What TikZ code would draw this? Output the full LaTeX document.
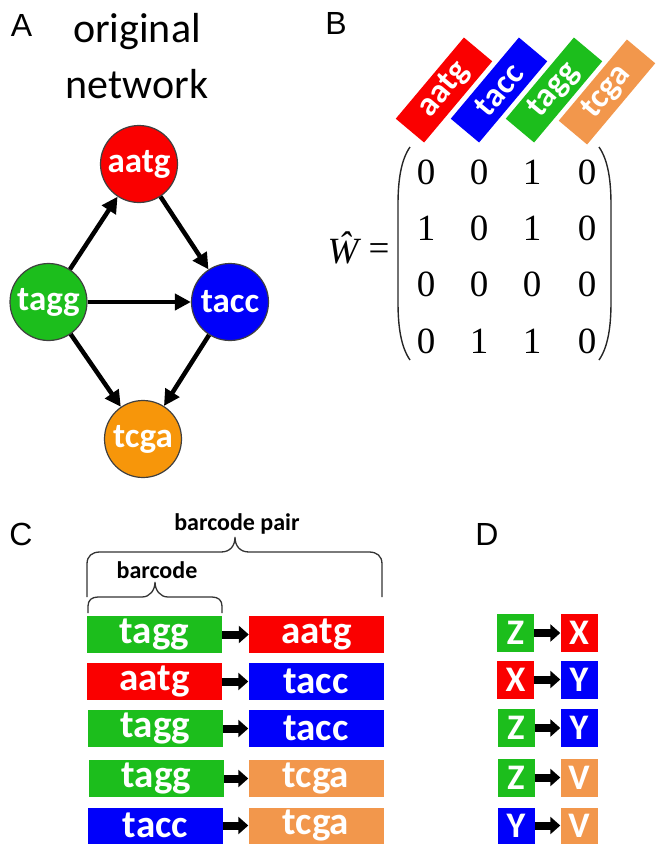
\documentclass[tikz,border=0pt]{standalone}
\usepackage{fontspec}
\setmainfont{Carlito}
\newfontfamily\labfont{Liberation Sans}
\newfontfamily\serfont{Liberation Serif}
\usetikzlibrary{arrows.meta}
\definecolor{cred}{RGB}{250,0,0}
\definecolor{cblue}{RGB}{0,0,250}
\definecolor{cgreen}{RGB}{28,190,28}
\definecolor{corange}{RGB}{247,150,10}
\definecolor{clorange}{RGB}{242,151,76}
\begin{document}
\begin{tikzpicture}[x=1pt,y=-1pt,
  panel/.style={font=\labfont\fontsize{32}{36}\selectfont, inner sep=0pt},
  title/.style={font=\fontsize{42}{48}\selectfont, inner sep=0pt},
  circ/.style={circle, draw=black!75, line width=1.2pt, minimum size=77pt, inner sep=0pt, text=white, font=\bfseries\fontsize{35}{40}\selectfont},
  garrow/.style={line width=4.5pt, -{Triangle[length=16pt,width=16pt]}},
  tagbox/.style={rectangle, minimum width=106pt, minimum height=37pt, inner sep=0pt, rotate=50, text=white, font=\bfseries\fontsize{34}{36}\selectfont},
  entry/.style={font=\serfont\fontsize{37}{40}\selectfont, inner sep=0pt},
  paren/.style={line width=1.4pt, black!85},
  brace/.style={line width=1.3pt, black!80},
  bracelabel/.style={font=\bfseries\fontsize{24}{28}\selectfont, inner sep=0pt},
  cbox/.style={rectangle, minimum width=135pt, minimum height=37pt, inner sep=0pt, text=white, font=\bfseries\fontsize{39}{40}\selectfont},
  dbox/.style={rectangle, minimum width=37pt, minimum height=38pt, inner sep=0pt, text=white, font=\bfseries\fontsize{36}{40}\selectfont},
  barrow/.style={line width=8pt, -{Triangle[length=10pt,width=17pt]}}
]
\useasboundingbox (0,0) rectangle (657,844);

% ---------- Panel A ----------
\node[panel] (labA) at (21.5,25) {A};
\node[title] (t1) at (137,32) {original};
\node[title] (t2) at (137,84) {network};
\node[circ, fill=cred] (aatg) at (139,164) {aatg};
\node[circ, fill=cgreen] (tagg) at (48.5,302) {tagg};
\node[circ, fill=cblue] (tacc) at (230,302) {tacc};
\node[circ, fill=corange] (tcga) at (143,439) {tcga};
\draw[garrow] (tagg) -- (aatg);
\draw[garrow] (aatg) -- (tacc);
\draw[garrow] (tagg) -- (tacc);
\draw[garrow] (tagg) -- (tcga);
\draw[garrow] (tacc) -- (tcga);

% ---------- Panel B ----------
\node[panel] (labB) at (336,23.5) {B};
\node[tagbox, fill=cred] (bh1) at (444,90) {aatg};
\node[tagbox, fill=cblue] (bh2) at (499,90) {tacc};
\node[tagbox, fill=cgreen] (bh3) at (554,90) {tagg};
\node[tagbox, fill=clorange] (bh4) at (607,92) {tcga};
\node[font=\serfont\itshape\fontsize{37}{40}\selectfont, inner sep=0pt] (W) at (343,248) {\^{W}};
\node[entry] (eq) at (379,252) {=};
\node[entry] (m11) at (426,172) {0};
\node[entry] (m12) at (479,172) {0};
\node[entry] (m13) at (532,172) {1};
\node[entry] (m14) at (587,172) {0};
\node[entry] (m21) at (426,228) {1};
\node[entry] (m22) at (479,228) {0};
\node[entry] (m23) at (532,228) {1};
\node[entry] (m24) at (587,228) {0};
\node[entry] (m31) at (426,284) {0};
\node[entry] (m32) at (479,284) {0};
\node[entry] (m33) at (532,284) {0};
\node[entry] (m34) at (587,284) {0};
\node[entry] (m41) at (426,341) {0};
\node[entry] (m42) at (479,341) {1};
\node[entry] (m43) at (532,341) {1};
\node[entry] (m44) at (587,341) {0};
\draw[paren] (410,147) .. controls (401,160) and (398,180) .. (398,205) -- (398,302) .. controls (398,327) and (401,347) .. (410,360);
\draw[paren] (599,147) .. controls (608,160) and (611,180) .. (611,205) -- (611,302) .. controls (611,327) and (608,347) .. (599,360);

% ---------- Panel C ----------
\node[panel] (labC) at (21,534.5) {C};
\node[bracelabel] (bp) at (237,524) {barcode pair};
\node[bracelabel] (bc) at (157,570) {barcode};
\draw[brace] (87,597) -- (87,564) .. controls (87,556) and (92,552) .. (100,552) -- (221,552) .. controls (230,552) and (235,546) .. (235,537) .. controls (235,546) and (240,552) .. (249,552) -- (369,552) .. controls (377,552) and (382,556) .. (382,564) -- (382,597);
\draw[brace] (88,613) -- (88,606) .. controls (88,600) and (92,597) .. (98,597) -- (142,597) .. controls (150,597) and (155,590) .. (155,582) .. controls (155,590) and (160,597) .. (168,597) -- (212,597) .. controls (218,597) and (222,600) .. (222,606) -- (222,613);

\node[cbox, fill=cgreen] (c1l) at (154.5,634.5) {tagg};
\node[cbox, fill=cred] (c1r) at (316.5,634.5) {aatg};
\node[cbox, fill=cred] (c2l) at (154.5,681.5) {aatg};
\node[cbox, fill=cblue] (c2r) at (316,681.5) {tacc};
\node[cbox, fill=cgreen] (c3l) at (155.5,728.5) {tagg};
\node[cbox, fill=cblue] (c3r) at (316,728.5) {tacc};
\node[cbox, fill=cgreen] (c4l) at (156.5,778.5) {tagg};
\node[cbox, fill=clorange] (c4r) at (316,778.5) {tcga};
\node[cbox, fill=cblue, minimum height=36pt] (c5l) at (155.5,825.5) {tacc};
\node[cbox, fill=clorange, minimum height=36pt] (c5r) at (316,825.5) {tcga};
\foreach \k in {1,...,5}{\draw[barrow] (c\k l.east) -- (c\k r.west);}

% ---------- Panel D ----------
\node[panel] (labD) at (487,534) {D};
\node[dbox, fill=cgreen] (d1l) at (515.5,633) {Z};
\node[dbox, fill=cred] (d1r) at (579,633) {X};
\node[dbox, fill=cred] (d2l) at (515.5,679.5) {X};
\node[dbox, fill=cblue] (d2r) at (579,679.5) {Y};
\node[dbox, fill=cgreen] (d3l) at (516,728) {Z};
\node[dbox, fill=cblue] (d3r) at (579,728) {Y};
\node[dbox, fill=cgreen] (d4l) at (516,777.5) {Z};
\node[dbox, fill=clorange] (d4r) at (579,777.5) {V};
\node[dbox, fill=cblue, minimum height=36pt] (d5l) at (516,825.5) {Y};
\node[dbox, fill=clorange, minimum height=36pt] (d5r) at (579,825.5) {V};
\foreach \k in {1,...,5}{\draw[barrow] (d\k l.east) -- (d\k r.west);}
\end{tikzpicture}
\end{document}
